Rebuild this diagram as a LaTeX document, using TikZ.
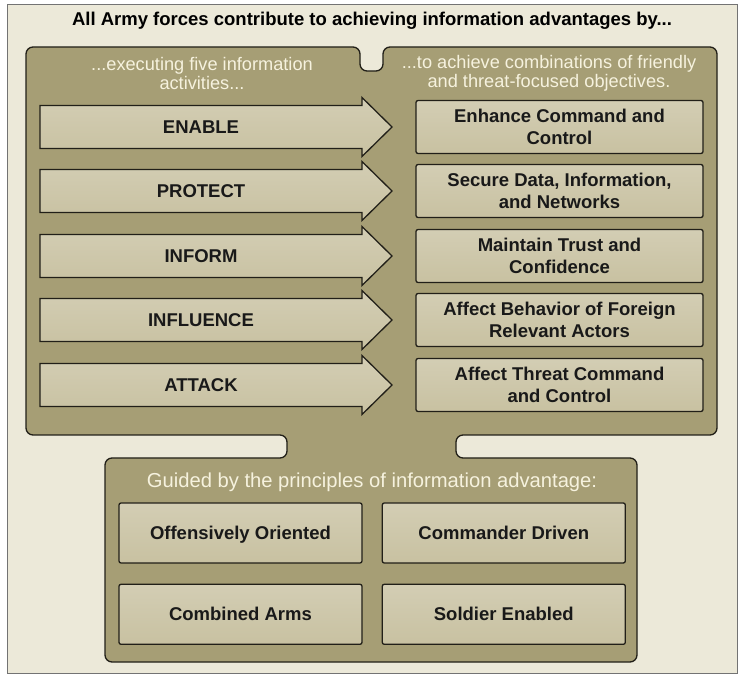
\documentclass[tikz,border=0pt]{standalone}
\usepackage{fontspec}
\setmainfont{Liberation Sans}
\usetikzlibrary{positioning}
\definecolor{bgcream}{RGB}{236,233,217}
\definecolor{panelolive}{RGB}{166,158,117}
\definecolor{boxtan}{RGB}{200,193,161}
\definecolor{headcream}{RGB}{246,242,222}
\definecolor{linedark}{RGB}{33,31,24}

\begin{document}
\begin{tikzpicture}[x=1pt, y=-1pt,
	panel/.style={draw=linedark, line width=1.3pt, fill=panelolive, rounded corners=7pt},
	tanbox/.style={draw=linedark, line width=1.3pt, top color=boxtan!80!white, bottom color=boxtan, rounded corners=2pt, align=center, text=black!90, font=\fontsize{18.5}{22}\selectfont\bfseries},
	actarrow/.style={draw=linedark, line width=1.3pt, top color=boxtan!80!white, bottom color=boxtan, line join=miter},
	headtext/.style={text=headcream, align=center, font=\fontsize{18.2}{19}\selectfont}]
	\useasboundingbox (0,0) rectangle (745,684);
	\draw [draw=black!55, fill=bgcream] (7,4) rectangle (737,673);
	\node [font=\fontsize{18.5}{22}\selectfont\bfseries] (title) at (372,21) {All Army forces contribute to achieving information advantages by...};
	
	% olive panels with notch and neck
	\draw [panel] (26,47) -- (360,47) -- (360,71) -- (383,71) -- (383,47) -- (717,47) -- (717,435) -- (456,435) -- (456,458) -- (637,458) -- (637,662) -- (105,662) -- (105,458) -- (287,458) -- (287,435) -- (26,435) -- cycle;
	\node [headtext] (acthead) at (202,73) {...executing five information\\activities...};
	\node [headtext] (objhead) at (549,73) {...to achieve combinations of friendly\\and threat-focused objectives.};
	
	\foreach \y/\act/\obj [count=\i] in {127/ENABLE/{Enhance Command and\\Control}, 191/PROTECT/{Secure Data, Information,\\and Networks}, 256/INFORM/{Maintain Trust and\\Confidence}, 320/INFLUENCE/{Affect Behavior of Foreign\\Relevant Actors}, 385/ATTACK/{Affect Threat Command\\and Control}}
	{
		\draw [actarrow] (40,\y-21.5) -- (362,\y-21.5) -- (362,\y-29.5) -- (392,\y) -- (362,\y+29.5) -- (362,\y+21.5) -- (40,\y+21.5) -- cycle;
		\node [font=\fontsize{18.5}{22}\selectfont\bfseries, text=black!90] (act\i) at (201,\y) {\act};
		\node [tanbox, minimum width=287pt, minimum height=53pt] (obj\i) at (559.5,\y) {\obj};
	}
	
	\node [headtext, font=\fontsize{20.2}{22}\selectfont] (princ) at (372,482) {Guided by the principles of information advantage:};
	\tikzset{pricbox/.style={tanbox, minimum width=243pt, minimum height=60pt, text height=13pt, text depth=0pt}}
	\node [pricbox] (offens) at (240.5,533) {Offensively Oriented};
	\node [pricbox, right = 19pt of offens] (cmdr) {Commander Driven};
	\node [pricbox, below = 20pt of offens] (combarms) {Combined Arms};
	\node [pricbox, right = 19pt of combarms] (soldier) {Soldier Enabled};
\end{tikzpicture}
\end{document}
